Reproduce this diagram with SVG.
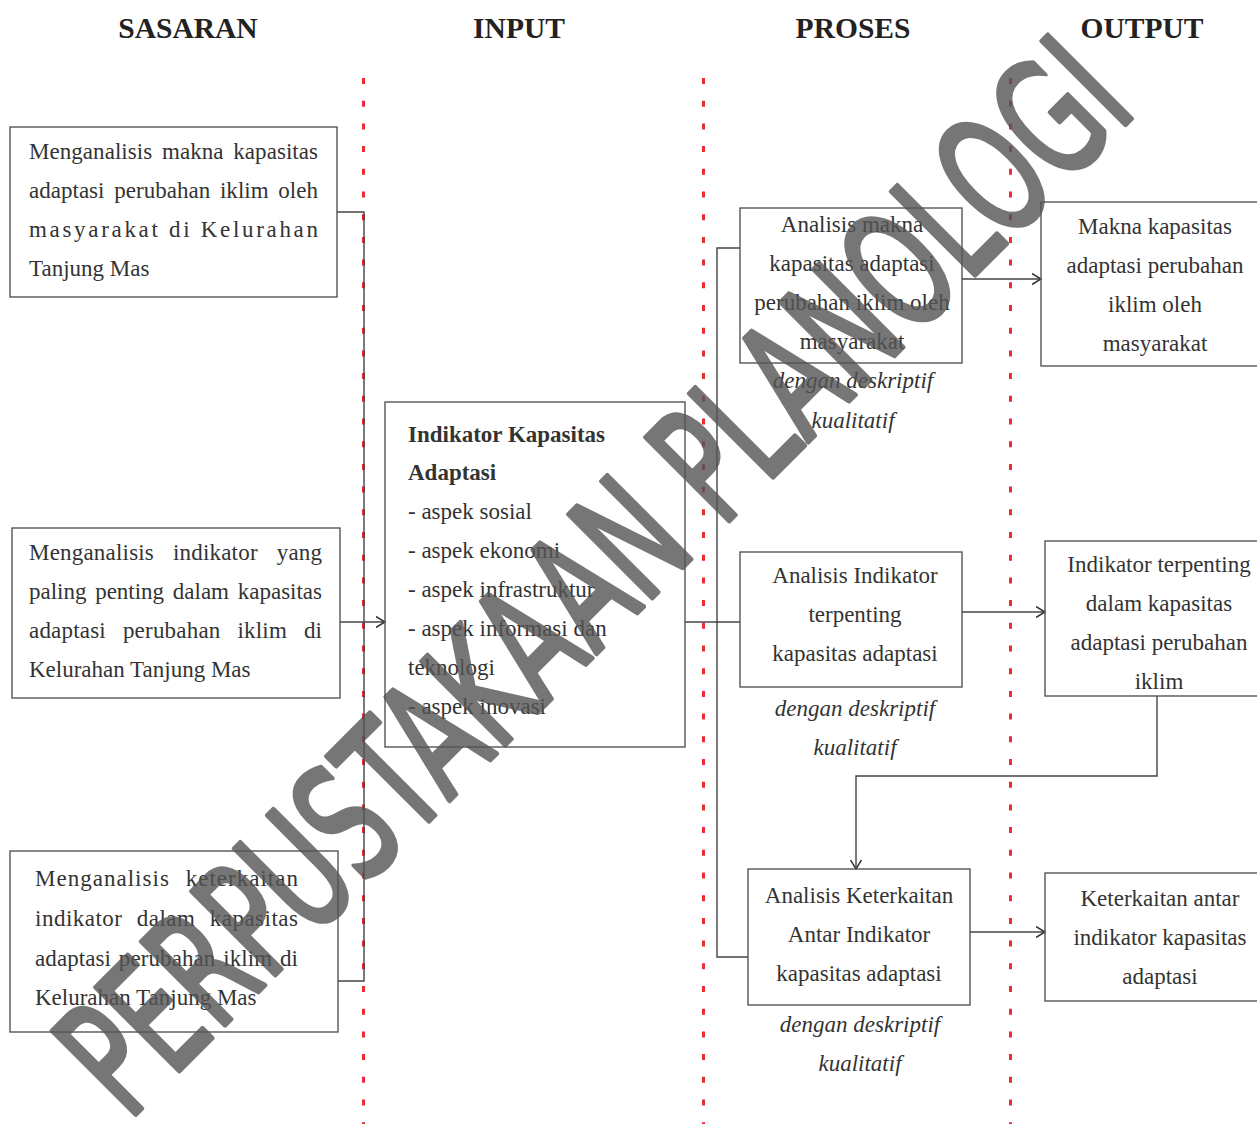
<svg xmlns="http://www.w3.org/2000/svg" width="1257" height="1124" viewBox="0 0 1257 1124">
<style>
.bg{fill:#ffffff}
.box{fill:none;stroke:#555;stroke-width:1.4}
.t{font-family:"Liberation Serif","Times New Roman",serif;font-size:23px;fill:#333}
.c{text-anchor:middle}
.b{font-weight:bold}
.i{font-style:italic}
.h{font-family:"Liberation Serif","Times New Roman",serif;font-size:29.5px;font-weight:bold;fill:#222;text-anchor:middle}
.red{stroke:#ee2a33;stroke-width:3;stroke-dasharray:6 16.7;fill:none}
.con{fill:none;stroke:#444;stroke-width:1.4}
.arr{marker-end:url(#ah)}
.wm{font-family:"DejaVu Sans",sans-serif;font-size:162px;fill:#555;stroke:#555;stroke-width:5;stroke-linejoin:round}
</style>
<defs>
<marker id="ah" viewBox="0 0 10 12" refX="9.5" refY="6" markerWidth="10" markerHeight="12" markerUnits="userSpaceOnUse" orient="auto">
<path d="M0.5,0.5 L9.5,6 L0.5,11.5" fill="none" stroke="#333" stroke-width="1.5"/>
</marker>
</defs>
<rect class="bg" x="0" y="0" width="1257" height="1124"/>

<g id="headers">
<text class="h" x="188" y="38">SASARAN</text>
<text class="h" x="519" y="38">INPUT</text>
<text class="h" x="853" y="38">PROSES</text>
<text class="h" x="1142" y="38">OUTPUT</text>
</g>

<g id="dividers">
<line class="red" x1="363.5" y1="78" x2="363.5" y2="1124"/>
<line class="red" x1="703.5" y1="78" x2="703.5" y2="1124"/>
<line class="red" x1="1010.5" y1="78" x2="1010.5" y2="1124"/>
</g>

<g id="connectors">
<path class="con" d="M337,212 H364 V981 H338"/>
<path class="con arr" d="M340,622 H385"/>
<path class="con" d="M685,622 H740"/>
<path class="con" d="M740,248 H717 V957 H748"/>
<path class="con arr" d="M962,279 H1041"/>
<path class="con arr" d="M962,612 H1045"/>
<path class="con arr" d="M970,932 H1045"/>
<path class="con arr" d="M1157,696 V776 H856 V869"/>
</g>

<g id="sasaran1">
<rect class="box" x="10" y="127" width="327" height="170"/>
<text class="t" x="29" y="159" word-spacing="4" textLength="289" lengthAdjust="spacing">Menganalisis makna kapasitas</text>
<text class="t" x="29" y="198" word-spacing="4" textLength="289" lengthAdjust="spacing">adaptasi perubahan iklim oleh</text>
<text class="t" x="29" y="237" textLength="289" lengthAdjust="spacing">masyarakat di Kelurahan</text>
<text class="t" x="29" y="276">Tanjung Mas</text>
</g>

<g id="sasaran2">
<rect class="box" x="12" y="528" width="328" height="170"/>
<text class="t" x="29" y="560" word-spacing="13" textLength="293" lengthAdjust="spacing">Menganalisis indikator yang</text>
<text class="t" x="29" y="599" word-spacing="3" textLength="293" lengthAdjust="spacing">paling penting dalam kapasitas</text>
<text class="t" x="29" y="638" word-spacing="11" textLength="293" lengthAdjust="spacing">adaptasi perubahan iklim di</text>
<text class="t" x="29" y="677">Kelurahan Tanjung Mas</text>
</g>

<g id="sasaran3">
<rect class="box" x="10" y="851" width="328" height="181"/>
<text class="t" x="35" y="886" word-spacing="9" textLength="263" lengthAdjust="spacing">Menganalisis keterkaitan</text>
<text class="t" x="35" y="926" word-spacing="8" textLength="263" lengthAdjust="spacing">indikator dalam kapasitas</text>
<text class="t" x="35" y="966" word-spacing="2" textLength="263" lengthAdjust="spacing">adaptasi perubahan iklim di</text>
<text class="t" x="35" y="1005">Kelurahan Tanjung Mas</text>
</g>

<g id="input">
<rect class="box" x="385" y="402" width="300" height="345"/>
<text class="t b" x="408" y="442">Indikator Kapasitas</text>
<text class="t b" x="408" y="480">Adaptasi</text>
<text class="t" x="408" y="519">- aspek sosial</text>
<text class="t" x="408" y="558">- aspek ekonomi</text>
<text class="t" x="408" y="597">- aspek infrastruktur</text>
<text class="t" x="408" y="636">- aspek informasi dan</text>
<text class="t" x="408" y="675">teknologi</text>
<text class="t" x="408" y="714">- aspek inovasi</text>
</g>

<g id="proses1">
<rect class="box" x="740" y="208" width="222" height="155"/>
<text class="t c" x="852" y="232">Analisis makna</text>
<text class="t c" x="852" y="271">kapasitas adaptasi</text>
<text class="t c" x="852" y="310">perubahan iklim oleh</text>
<text class="t c" x="852" y="349">masyarakat</text>
<text class="t c i" x="853" y="388">dengan deskriptif</text>
<text class="t c i" x="853" y="428">kualitatif</text>
</g>

<g id="proses2">
<rect class="box" x="740" y="552" width="222" height="135"/>
<text class="t c" x="855" y="583">Analisis Indikator</text>
<text class="t c" x="855" y="622">terpenting</text>
<text class="t c" x="855" y="661">kapasitas adaptasi</text>
<text class="t c i" x="855" y="716">dengan deskriptif</text>
<text class="t c i" x="855" y="755">kualitatif</text>
</g>

<g id="proses3">
<rect class="box" x="748" y="869" width="222" height="136"/>
<text class="t c" x="859" y="903">Analisis Keterkaitan</text>
<text class="t c" x="859" y="942">Antar Indikator</text>
<text class="t c" x="859" y="981">kapasitas adaptasi</text>
<text class="t c i" x="860" y="1032">dengan deskriptif</text>
<text class="t c i" x="860" y="1071">kualitatif</text>
</g>

<g id="output1">
<rect class="box" x="1041" y="202" width="222" height="164"/>
<text class="t c" x="1155" y="234">Makna kapasitas</text>
<text class="t c" x="1155" y="273">adaptasi perubahan</text>
<text class="t c" x="1155" y="312">iklim oleh</text>
<text class="t c" x="1155" y="351">masyarakat</text>
</g>

<g id="output2">
<rect class="box" x="1045" y="541" width="220" height="155"/>
<text class="t c" x="1159" y="572">Indikator terpenting</text>
<text class="t c" x="1159" y="611">dalam kapasitas</text>
<text class="t c" x="1159" y="650">adaptasi perubahan</text>
<text class="t c" x="1159" y="689">iklim</text>
</g>

<g id="output3">
<rect class="box" x="1045" y="873" width="220" height="128"/>
<text class="t c" x="1160" y="906">Keterkaitan antar</text>
<text class="t c" x="1160" y="945">indikator kapasitas</text>
<text class="t c" x="1160" y="984">adaptasi</text>
</g>

<g id="watermark" opacity="0.8">
<text class="wm" transform="translate(128,1122) rotate(-45)" x="0" y="0" textLength="1430" lengthAdjust="spacingAndGlyphs">PERPUSTAKAAN PLANOLOGI</text>
</g>
</svg>
